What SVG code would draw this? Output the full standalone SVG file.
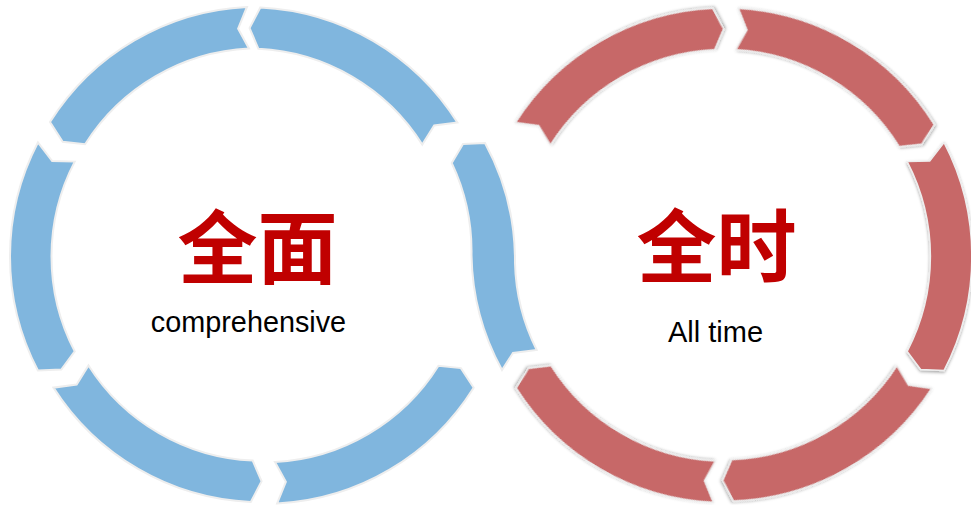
<svg xmlns="http://www.w3.org/2000/svg" xmlns:xlink="http://www.w3.org/1999/xlink" width="971" height="505" viewBox="0 0 971 505">
  <style>
    .blue { fill: #80B6DE; stroke: #EEEEEE; stroke-width: 2; stroke-linejoin: miter; }
    .red { fill: #C76868; stroke: #EEEEEE; stroke-width: 1.5; stroke-linejoin: miter; filter: url(#shadow); }
    .title { font-family: "Noto Sans CJK SC", "Noto Sans CJK TC", sans-serif; font-weight: 700; font-size: 80px; fill: #C00000; text-anchor: middle; }
    .sub { font-family: "Liberation Sans", Arial, sans-serif; fill: #000000; text-anchor: middle; }
  </style>
  <defs>
    <filter id="shadow" x="-20%" y="-20%" width="140%" height="140%">
      <feDropShadow dx="0" dy="1.5" stdDeviation="1.6" flood-color="#000000" flood-opacity="0.35"/>
    </filter>
    <radialGradient id="floor" cx="0.5" cy="1" r="0.5">
      <stop offset="0" stop-color="#000000" stop-opacity="0.10"/>
      <stop offset="0.8" stop-color="#000000" stop-opacity="0.04"/>
      <stop offset="1" stop-color="#000000" stop-opacity="0"/>
    </radialGradient>
    <!-- blue segment: counter-clockwise flow, tail (notch) at +27.5deg, head (tip) at -27.5deg -->
    <path id="segB" d="M 219.09,114.05 A 247 247 0 0 0 219.09,-114.05 L 195.72,-113 L 182.28,-94.89 A 205.5 205.5 0 0 1 182.28,94.89 L 204.83,95.51 Z"/>
    <!-- red segment: clockwise flow, tail (notch) at -27.5deg, head (tip) at +27.5deg -->
    <path id="segR" d="M 219.09,-114.05 A 247 247 0 0 1 219.09,114.05 L 195.72,113 L 182.28,94.89 A 205.5 205.5 0 0 0 182.28,-94.89 L 204.83,-95.51 Z"/>
  </defs>

  <rect x="0" y="0" width="971" height="505" fill="#FFFFFF"/>
  <ellipse cx="500" cy="506" rx="470" ry="9" fill="url(#floor)"/>

  <g id="node-alltime">
    <use xlink:href="#segR" href="#segR" class="red" transform="translate(724,255) rotate(-120.1)"/>
    <use xlink:href="#segR" href="#segR" class="red" transform="translate(724.5,254.9) rotate(-59.3)"/>
    <use xlink:href="#segR" href="#segR" class="red" transform="translate(724.9,256.5) rotate(0)"/>
    <use xlink:href="#segR" href="#segR" class="red" transform="translate(724.3,254.2) rotate(60.4)"/>
    <use xlink:href="#segR" href="#segR" class="red" transform="translate(724.6,255.6) rotate(120.1)"/>
    <text class="title" x="716.5" y="276">全时</text>
    <text class="sub" x="715.5" y="342" font-size="29">All time</text>
  </g>

  <g id="node-comprehensive">
    <use xlink:href="#segB" href="#segB" class="blue" transform="translate(248.4,254.1) rotate(-59.7)"/>
    <use xlink:href="#segB" href="#segB" class="blue" transform="translate(259,253.7) rotate(-120.3)"/>
    <use xlink:href="#segB" href="#segB" class="blue" transform="translate(257,256.5) rotate(180)"/>
    <use xlink:href="#segB" href="#segB" class="blue" transform="translate(262,255.3) rotate(120.1)"/>
    <use xlink:href="#segB" href="#segB" class="blue" transform="translate(264.2,256.8) rotate(59.5)"/>
    <text class="title" x="257.5" y="277">全面</text>
    <text class="sub" x="248.5" y="332" font-size="28.8">comprehensive</text>
  </g>

  <g id="connectors">
    <!-- S-shaped shared arrow linking the two cycles -->
    <path id="link" class="blue" d="M 485,143 A 247 247 0 0 1 515,263 A 206 206 0 0 0 536.7,350 L 513,353 L 502,370 A 247 247 0 0 1 471.5,255 A 206 206 0 0 0 451.7,163 L 463,144 Z"/>
  </g>
</svg>
